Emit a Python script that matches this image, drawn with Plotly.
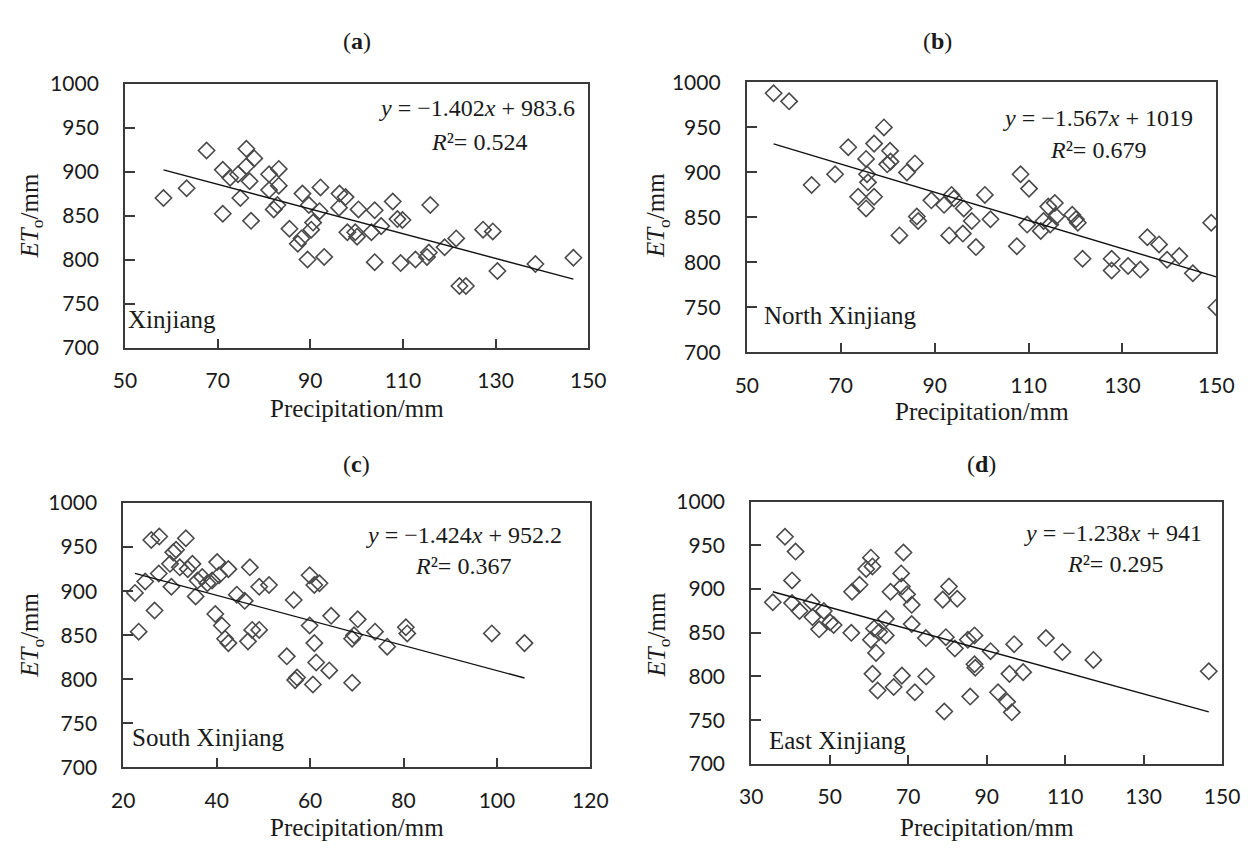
import plotly.graph_objects as go

W, H = 1257, 853

# ---------------- data ----------------
a_precip = [58.3, 63.3, 67.6, 71.1, 71.1, 72.7, 74.4, 76.2, 77.9, 76.2, 76.9, 74.9, 77.2, 81.1, 83.2,
            83.2, 81.1, 82.1, 82.9, 85.5, 88.3, 89.7, 87.3, 88.1, 90.2, 90.6, 89.4, 93.0, 92.2, 92.0,
            96.3, 97.6, 96.2, 98.0, 99.7, 100.4, 103.9, 107.8, 108.8, 109.9, 100.1, 103.2, 105.3,
            115.9, 103.9, 109.5, 112.7, 115.2, 115.6, 119.0, 121.5, 122.2, 123.6, 127.3, 129.4,
            130.4, 138.6, 146.8]
a_et0 = [870, 881, 924, 902, 852, 893, 897, 926, 915, 906, 889, 870, 844, 897, 903,
         884, 879, 857, 862, 835, 875, 862, 818, 824, 834, 842, 800, 803, 882, 855,
         875, 871, 859, 831, 831, 857, 856, 866, 846, 845, 826, 831, 838,
         862, 797, 796, 800, 803, 808, 814, 824, 770, 770, 834, 832,
         787, 795, 802]

b_precip = [55.7, 59.0, 63.8, 68.8, 71.6, 75.4, 77.1, 79.2, 80.5, 79.9, 80.6, 75.6, 75.8, 73.7, 77.1,
            75.4, 84.1, 85.8, 82.5, 86.2, 86.5, 89.3, 92.0, 93.6, 94.1, 93.1, 96.0, 96.2, 97.9,
            98.8, 100.7, 101.9, 107.5, 108.3, 110.1, 109.7, 112.6, 113.2, 114.2, 115.6, 115.9,
            114.6, 119.3, 120.1, 120.5, 121.5, 127.7, 127.7, 131.2, 133.8, 135.3, 137.8, 139.5,
            142.1, 145.0, 148.9, 150.0]
b_et0 = [988, 979, 886, 898, 928, 915, 932, 950, 924, 909, 912, 898, 889, 873, 873,
         860, 900, 910, 830, 851, 846, 869, 864, 875, 871, 830, 832, 860, 846,
         817, 875, 848, 818, 898, 882, 842, 835, 846, 862, 866, 851,
         842, 853, 848, 844, 804, 804, 791, 796, 792, 828, 820, 803,
         807, 788, 844, 750]

c_precip = [22.5, 23.3, 24.7, 26.0, 27.7, 26.7, 27.6, 30.0, 30.7, 31.3, 30.3, 32.1, 33.4, 33.8, 34.8,
            35.5, 35.9, 36.9, 38.0, 39.0, 40.1, 40.5, 39.7, 41.1, 41.8, 42.5, 42.5, 44.3, 46.0,
            47.1, 46.7, 47.6, 49.1, 49.1, 51.2, 55.0, 56.5, 56.8, 57.2, 59.9, 59.9, 60.9, 62.0,
            60.9, 60.6, 61.3, 64.1, 64.5, 69.0, 69.4, 69.0, 70.2, 73.9, 76.5, 80.5, 80.8, 98.9,
            105.9]
c_et0 = [898, 854, 911, 958, 962, 878, 920, 931, 944, 947, 905, 927, 960, 925, 931,
         894, 912, 916, 909, 912, 933, 918, 874, 861, 846, 841, 925, 896, 889,
         927, 843, 856, 856, 905, 907, 826, 890, 799, 802, 918, 861, 907, 909,
         841, 794, 819, 810, 872, 846, 850, 796, 868, 854, 837, 859, 852, 852,
         841]

d_precip = [35.5, 38.6, 41.3, 40.4, 40.4, 42.3, 45.4, 45.6, 47.3, 48.5, 50.1, 51.0, 55.5, 55.7, 57.6,
            59.3, 60.5, 60.9, 61.3, 60.5, 61.8, 60.9, 62.2, 62.6, 64.3, 64.3, 65.5, 66.3, 68.2,
            68.8, 68.4, 68.4, 69.7, 70.9, 70.9, 71.7, 74.5, 74.6, 78.8, 80.4, 82.5, 79.2, 79.6,
            81.9, 85.2, 86.9, 86.9, 87.1, 85.8, 91.0, 92.9, 95.2, 96.4, 95.8, 97.0, 99.3, 105.1,
            109.3, 117.2, 146.6]
d_et0 = [885, 960, 943, 910, 884, 875, 885, 868, 854, 875, 862, 859, 850, 897, 905,
         923, 936, 926, 855, 842, 827, 803, 784, 851, 866, 847, 897, 788, 918,
         942, 801, 903, 894, 882, 860, 782, 844, 800, 888, 903, 889, 760, 845,
         832, 842, 847, 814, 810, 777, 829, 782, 771, 759, 803, 837, 805, 844,
         828, 819, 806]

panel_letters = ["a", "b", "c", "d"]
region_names = ["Xinjiang", "North Xinjiang", "South Xinjiang", "East Xinjiang"]
slopes = [-1.402, -1.567, -1.424, -1.238]
intercepts = [983.6, 1019, 952.2, 941]
slope_text = ["1.402", "1.567", "1.424", "1.238"]
intercept_text = ["983.6", "1019", "952.2", "941"]
r2_text = ["0.524", "0.679", "0.367", "0.295"]
x_ranges = [[50, 150], [50, 150], [20, 120], [30, 150]]
y_range = [700, 1000]
x_ticks = [[50, 70, 90, 110, 130, 150], [50, 70, 90, 110, 130, 150],
           [20, 40, 60, 80, 100, 120], [30, 50, 70, 90, 110, 130, 150]]
y_ticks = [700, 750, 800, 850, 900, 950, 1000]
x_title = "Precipitation/mm"
y_title = "<i>ET</i><sub>o</sub>/mm"

precips = [a_precip, b_precip, c_precip, d_precip]
ets = [a_et0, b_et0, c_et0, d_et0]

# ---------------- layout geometry (pixels) ----------------
boxes = [  # left, right, top, bottom
    (115.8, 590.3, 71.7, 343.6),
    (752.8, 1233.8, 70.5, 348.6),
    (114.0, 592.5, 503.8, 776.1),
    (757.3, 1239.7, 502.5, 772.5),
]
title_pos = [(353, 28), (948, 28), (353, 464), (993, 464)]
eq_pos = [(476, 97), (1113, 107), (463, 537), (1128, 535)]
r2_pos = [(478, 132), (1113, 140), (462, 569), (1130, 567)]
region_pos = [(117, 315), (768, 311), (121, 745), (773, 748)]
ytitle_pos = [(20, 208), (662, 208), (20, 640), (662, 640)]
xtitle_y = [406, 410, 838, 838]


def px(x):
    return x / W


def py(y):
    return 1 - y / H


SERIF = "Liberation Serif"
SANS = "Lato"
TXT = "#1a1a1a"
AX = "#3a3a3a"

fig = go.Figure()
annotations = []
layout_axes = {}

for i in range(4):
    n = "" if i == 0 else str(i + 1)
    xa, ya = "x" + n, "y" + n
    L, R, T, B = boxes[i]
    xs, ys = precips[i], ets[i]
    fig.add_trace(go.Scatter(
        x=xs, y=ys, mode="markers", xaxis=xa, yaxis=ya, showlegend=False,
        marker=dict(symbol="diamond-open", size=12.5, color="#4a4a4a",
                    line=dict(width=1.6, color="#4a4a4a")),
    ))
    x0, x1 = min(xs), max(xs)
    fig.add_trace(go.Scatter(
        x=[x0, x1], y=[slopes[i] * x0 + intercepts[i], slopes[i] * x1 + intercepts[i]],
        mode="lines", xaxis=xa, yaxis=ya, showlegend=False,
        line=dict(color="#111111", width=1.4),
    ))
    common = dict(showline=True, linecolor=AX, linewidth=2, mirror=True,
                  ticks="inside", tickcolor=AX, tickwidth=2,
                  showgrid=False, zeroline=False,
                  tickfont=dict(family=SANS, size=21, color=TXT))
    layout_axes["xaxis" + n] = dict(
        domain=[px(L), px(R)], range=x_ranges[i], tickvals=x_ticks[i],
        anchor=ya, ticklen=9, ticklabelstandoff=13, **common)
    layout_axes["yaxis" + n] = dict(
        domain=[py(B), py(T)], range=y_range, tickvals=y_ticks,
        anchor=xa, ticklen=10, ticklabelstandoff=20, **common)

    def ann(text, x, y, size=24, xanchor="center", angle=0, family=SERIF):
        annotations.append(dict(
            text=text, x=px(x), y=py(y), xref="paper", yref="paper",
            xanchor=xanchor, yanchor="middle", showarrow=False, textangle=angle,
            font=dict(family=family, size=size, color=TXT)))

    ann("(<b>%s</b>)" % panel_letters[i], *title_pos[i], size=24)
    ann("<i>y</i> = −%s<i>x</i> + %s" % (slope_text[i], intercept_text[i]), *eq_pos[i], size=24)
    ann("<i>R</i>²= %s" % r2_text[i], *r2_pos[i], size=24)
    ann(region_names[i], *region_pos[i], size=25, xanchor="left")
    ann(y_title, *ytitle_pos[i], size=25, angle=-90)
    ann(x_title, (L + R) / 2, xtitle_y[i], size=25)

fig.update_layout(
    width=W, height=H, margin=dict(l=0, r=0, t=0, b=0),
    paper_bgcolor="white", plot_bgcolor="white",
    annotations=annotations, showlegend=False, **layout_axes,
)

fig.write_html("out.html")
